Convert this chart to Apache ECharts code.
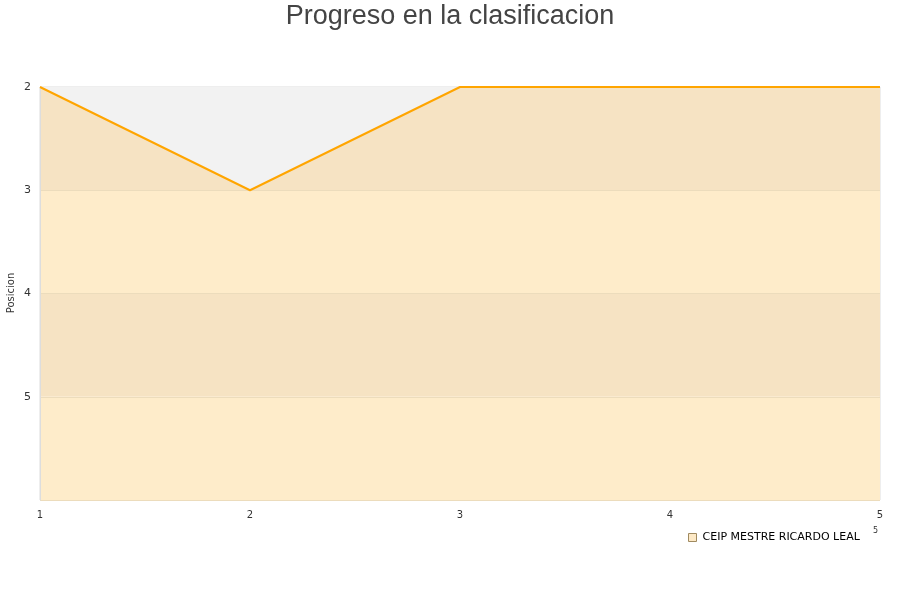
<!DOCTYPE html>
<html><head><meta charset="utf-8">
<script src="https://cdn.jsdelivr.net/npm/echarts@6/dist/echarts.min.js"></script>
<style>html,body{margin:0;padding:0;background:#fff}#c{width:900px;height:600px}</style>
</head><body><div id="c"></div>
<script>
const jornadas = [1, 2, 3, 4, 5];
const posiciones = [2, 3, 2, 2, 2];
const teamName = 'CEIP MESTRE RICARDO LEAL';
const titleText = 'Progreso en la clasificacion';
const yAxisName = 'Posicion';
const yTicks = [2, 3, 4, 5];

const chart = echarts.init(document.getElementById('c'));
chart.setOption({
  animation: false,
  backgroundColor: '#fff',
  title: {
    text: titleText, left: 'center', top: -2,
    textStyle: { fontFamily: 'Liberation Sans, Arial, sans-serif', fontSize: 27, fontWeight: 'normal', color: '#444' }
  },
  legend: {
    data: [{ name: teamName, icon: 'rect', itemStyle: { color: '#fde9c6', borderColor: '#a08a60', borderWidth: 1 } }],
    left: 683, top: 527, itemWidth: 8, itemHeight: 8, itemGap: 8,
    textStyle: { fontFamily: 'DejaVu Sans, sans-serif', fontSize: 11, color: '#000', padding: [0, 0, 0, 1] }
  },
  grid: { left: 40, right: 20, top: 87, bottom: 100, show: true, borderColor: '#ddd', borderWidth: 1,
    containLabel: false, outerBoundsMode: 'none' },
  xAxis: {
    type: 'value', min: 1, max: 5, interval: 1,
    axisLine: { show: false }, axisTick: { show: false }, splitLine: { show: false },
    axisLabel: { fontFamily: 'DejaVu Sans, sans-serif', fontSize: 10, color: '#333', margin: 10 }
  },
  yAxis: {
    type: 'value', inverse: true, min: 2, max: 6, interval: 1,
    axisLine: { show: true, lineStyle: { color: '#ddd' } }, axisTick: { show: false },
    axisLabel: { fontFamily: 'DejaVu Sans, sans-serif', fontSize: 11, color: '#333', margin: 9,
      formatter: v => yTicks.includes(v) ? String(v) : '' },
    splitLine: { show: true, lineStyle: { color: '#ecdcbc' } },
    splitArea: { show: true, areaStyle: { color: ['#f6e3c3', '#feecca'] } }
  },
  graphic: [
    { type: 'text', x: 11, y: 293, rotation: Math.PI / 2,
      style: { text: yAxisName, fontSize: 10, fill: '#333', fontFamily: 'DejaVu Sans, sans-serif', align: 'center', verticalAlign: 'middle' } },
    { type: 'text', left: 873, top: 527, style: { text: '5', fontSize: 8, fill: '#333', fontFamily: 'DejaVu Sans, sans-serif' } }
  ],
  series: [{
    name: teamName, type: 'line',
    data: jornadas.map((j, i) => [j, posiciones[i]]),
    symbol: 'none',
    lineStyle: { color: '#ffa500', width: 2 },
    itemStyle: { color: '#fde9c6' },
    areaStyle: { origin: 'start', color: '#f2f2f2', opacity: 1 }
  }]
});
</script></body></html>
